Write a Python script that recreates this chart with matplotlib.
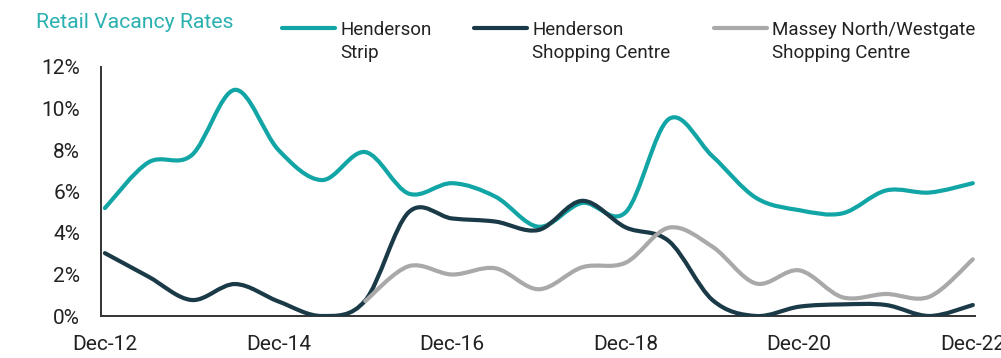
import numpy as np
import matplotlib
matplotlib.use("Agg")
import matplotlib.pyplot as plt
from matplotlib.path import Path
from matplotlib.patches import PathPatch
from matplotlib.lines import Line2D

plt.rcParams['font.family'] = ['Roboto', 'DejaVu Sans']

# Semi-annual periods Dec-12 .. Dec-22
periods = ["Dec-12", "Jun-13", "Dec-13", "Jun-14", "Dec-14", "Jun-15", "Dec-15",
           "Jun-16", "Dec-16", "Jun-17", "Dec-17", "Jun-18", "Dec-18", "Jun-19",
           "Dec-19", "Jun-20", "Dec-20", "Jun-21", "Dec-21", "Jun-22", "Dec-22"]

henderson_strip = [5.2, 7.4, 7.75, 10.9, 8.0, 6.55, 7.9, 5.9, 6.4, 5.75, 4.3,
                   5.45, 5.0, 9.5, 7.7, 5.7, 5.1, 4.95, 6.05, 5.95, 6.4]
henderson_sc = [3.03, 1.9, 0.77, 1.54, 0.7, 0.0, 0.75, 5.0, 4.7, 4.55, 4.15,
                5.55, 4.27, 3.6, 0.77, 0.0, 0.45, 0.56, 0.53, 0.0, 0.53]
massey = [None, None, None, None, None, None, 0.72, 2.4, 2.0, 2.3, 1.29,
          2.35, 2.57, 4.26, 3.34, 1.57, 2.2, 0.9, 1.06, 0.93, 2.73]

series_names = ["Henderson\nStrip", "Henderson\nShopping Centre",
                "Massey North/Westgate\nShopping Centre"]
colors = ["#12A5A5", "#1B3A47", "#A9A9A9"]
tick_labels = ["Dec-12", "Dec-14", "Dec-16", "Dec-18", "Dec-20", "Dec-22"]
yticks = [0, 2, 4, 6, 8, 10, 12]


def smooth_path(xs, ys):
    """Catmull-Rom style smoothing expressed as cubic Bezier path (like Excel smoothed lines)."""
    n = len(xs)
    verts = [(xs[0], ys[0])]
    codes = [Path.MOVETO]
    for i in range(n - 1):
        x0, y0 = xs[max(i - 1, 0)], ys[max(i - 1, 0)]
        x1, y1 = xs[i], ys[i]
        x2, y2 = xs[i + 1], ys[i + 1]
        x3, y3 = xs[min(i + 2, n - 1)], ys[min(i + 2, n - 1)]
        c1 = (x1 + (x2 - x0) / 6.0, y1 + (y2 - y0) / 6.0)
        c2 = (x2 - (x3 - x1) / 6.0, y2 - (y3 - y1) / 6.0)
        verts += [c1, c2, (x2, y2)]
        codes += [Path.CURVE4, Path.CURVE4, Path.CURVE4]
    return Path(verts, codes)


fig = plt.figure(figsize=(10.01, 3.58), dpi=100)
ax = fig.add_axes([101 / 1001, 1 - 316 / 358, (975 - 101) / 1001, (316 - 67) / 358])

for vals, col in zip([henderson_strip, henderson_sc, massey], colors):
    xs = [i for i, v in enumerate(vals) if v is not None]
    ys = [v for v in vals if v is not None]
    patch = PathPatch(smooth_path(xs, ys), facecolor='none', edgecolor=col,
                      lw=3.0, capstyle='round', joinstyle='round', zorder=3)
    ax.add_patch(patch)

ax.set_xlim(-0.09, 20.05)
ax.set_ylim(0, 12)
ax.set_xticks([periods.index(t) for t in tick_labels])
ax.set_xticklabels(tick_labels)
ax.set_yticks(yticks)
ax.set_yticklabels([f"{v}%" for v in yticks])
ax.tick_params(axis='both', length=0, labelsize=15, colors='#222222')
ax.tick_params(axis='x', pad=14)
ax.tick_params(axis='y', pad=15)
for s in ['top', 'right']:
    ax.spines[s].set_visible(False)
for s in ['left', 'bottom']:
    ax.spines[s].set_color('#333333')
    ax.spines[s].set_linewidth(1.4)

# Title
fig.text(36 / 1001, 1 - 28.5 / 358, "Retail Vacancy Rates", color="#2BB0B0",
         fontsize=15.3, ha='left', va='baseline')

# Legend (manual, to match layout)
legend_pos = [(282, 335, 340), (474, 527, 532), (714, 767, 772)]
for (hx0, hx1, tx), name, col in zip(legend_pos, series_names, colors):
    fig.add_artist(Line2D([hx0 / 1001, hx1 / 1001], [1 - 27.5 / 358] * 2,
                          transform=fig.transFigure, color=col, lw=3.0,
                          solid_capstyle='round'))
    l1, l2 = name.split("\n")
    fig.text(tx / 1001, 1 - 35 / 358, l1, fontsize=13.5, color='#222222',
             ha='left', va='baseline')
    fig.text(tx / 1001, 1 - 57.5 / 358, l2, fontsize=13.5, color='#222222',
             ha='left', va='baseline')

fig.savefig("out.png", dpi=100)
